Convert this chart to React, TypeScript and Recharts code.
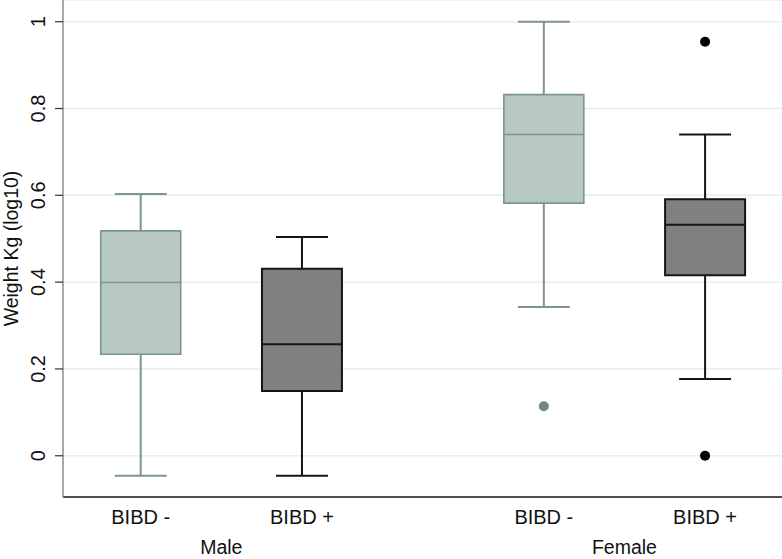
import React from 'react';
import {
  ComposedChart,
  XAxis,
  YAxis,
  CartesianGrid,
  ReferenceArea,
  ReferenceLine,
  Scatter,
} from 'recharts';

// groups on the x axis (Stata-style box plot, over(bibd) over(sex))
const categories = ['BIBD -', 'BIBD +', 'BIBD -', 'BIBD +'];
const sexes = ['Male', 'Female'];
const sexPositions = [1.5, 4];
const xPositions = [1, 2, 3.5, 4.5];
const bibdStatus = ['neg', 'pos', 'neg', 'pos'];

// box-plot statistics, weight kg (log10)
const whiskerLow = [-0.046, -0.046, 0.343, 0.177];
const q1 = [0.234, 0.149, 0.582, 0.416];
const median = [0.399, 0.257, 0.74, 0.532];
const q3 = [0.518, 0.431, 0.832, 0.591];
const whiskerHigh = [0.603, 0.504, 1.0, 0.74];

// outside values
const outliersNeg = [{ x: 3.5, y: 0.114 }];
const outliersPos = [
  { x: 4.5, y: 0.954 },
  { x: 4.5, y: 0.0 },
];

const yTicks = [0, 0.2, 0.4, 0.6, 0.8, 1];
const yTickLabels = ['0', '0.2', '0.4', '0.6', '0.8', '1'];

const FONT = '"Liberation Sans", Arial, sans-serif';
const BOX_HALF = 0.248;
const CAP_HALF = 0.161;

const styles: Record<string, { fill: string; stroke: string; width: number; dot: string }> = {
  neg: { fill: '#b7c9c2', stroke: '#7c968e', width: 1.6, dot: '#6e8a81' },
  pos: { fill: '#808080', stroke: '#151515', width: 2, dot: '#000000' },
};

const YTick = (props: any) => {
  const { x, y, index } = props;
  const bx = x - 9.5;
  return (
    <text
      x={bx}
      y={y}
      transform={`rotate(-90, ${bx}, ${y})`}
      textAnchor="middle"
      fontSize={20}
      fontFamily={FONT}
      fill="#111"
    >
      {yTickLabels[index]}
    </text>
  );
};

const XTick = (props: any) => {
  const { x, y, index } = props;
  return (
    <text x={x} y={y + 27} textAnchor="middle" fontSize={20} fontFamily={FONT} fill="#111">
      {categories[index]}
    </text>
  );
};

const GroupTick = (props: any) => {
  const { x, y, index } = props;
  return (
    <text x={x} y={y + 19} textAnchor="middle" fontSize={19.5} fontFamily={FONT} fill="#111">
      {sexes[index]}
    </text>
  );
};

const YLabel = (props: any) => {
  const vb = props.viewBox || { y: 0, height: 497 };
  const cy = vb.y + vb.height / 2;
  return (
    <text
      x={18}
      y={cy}
      transform={`rotate(-90, 18, ${cy})`}
      textAnchor="middle"
      fontSize={19.5}
      fontFamily={FONT}
      fill="#111"
    >
      Weight Kg (log10)
    </text>
  );
};

export default function App() {
  return (
    <div style={{ position: 'absolute', left: 0, top: 0, background: '#fff' }}>
      <ComposedChart width={782} height={559} margin={{ top: 0, right: 0, bottom: 0, left: 0 }}>
        <CartesianGrid vertical={false} stroke="#e8eeec" strokeWidth={1.5} />
        <XAxis
          dataKey="x"
          type="number"
          domain={[0.518, 4.977]}
          ticks={xPositions}
          allowDataOverflow
          height={38}
          tickSize={0}
          tickMargin={0}
          tickLine={false}
          axisLine={{ stroke: '#1a1a1a', strokeWidth: 1.5 }}
          tick={<XTick />}
          interval={0}
        />
        <XAxis
          xAxisId="g"
          dataKey="x"
          type="number"
          domain={[0.518, 4.977]}
          ticks={sexPositions}
          allowDataOverflow
          height={24}
          tickSize={0}
          tickMargin={0}
          tickLine={false}
          axisLine={false}
          tick={<GroupTick />}
          interval={0}
        />
        <YAxis
          dataKey="y"
          type="number"
          domain={[-0.095, 1.05]}
          ticks={yTicks}
          allowDataOverflow
          width={63}
          tickSize={8}
          tickMargin={0}
          interval={0}
          tickLine={{ stroke: '#333', strokeWidth: 1.2 }}
          axisLine={{ stroke: '#8c8c8c', strokeWidth: 1.5 }}
          tick={<YTick />}
          label={<YLabel />}
        />
        {xPositions.map((p, i) => {
          const s = styles[bibdStatus[i]];
          return (
            <ReferenceArea
              key={`box-${i}`}
              x1={p - BOX_HALF}
              x2={p + BOX_HALF}
              y1={q1[i]}
              y2={q3[i]}
              fill={s.fill}
              fillOpacity={1}
              stroke={s.stroke}
              strokeWidth={s.width}
              ifOverflow="visible"
            />
          );
        })}
        {xPositions.map((p, i) => {
          const s = styles[bibdStatus[i]];
          return (
            <React.Fragment key={`lines-${i}`}>
              <ReferenceLine
                segment={[
                  { x: p - BOX_HALF, y: median[i] },
                  { x: p + BOX_HALF, y: median[i] },
                ]}
                stroke={s.stroke}
                strokeWidth={s.width}
                ifOverflow="visible"
              />
              <ReferenceLine
                segment={[
                  { x: p, y: q3[i] },
                  { x: p, y: whiskerHigh[i] },
                ]}
                stroke={s.stroke}
                strokeWidth={2}
                ifOverflow="visible"
              />
              <ReferenceLine
                segment={[
                  { x: p, y: whiskerLow[i] },
                  { x: p, y: q1[i] },
                ]}
                stroke={s.stroke}
                strokeWidth={2}
                ifOverflow="visible"
              />
              <ReferenceLine
                segment={[
                  { x: p - CAP_HALF, y: whiskerHigh[i] },
                  { x: p + CAP_HALF, y: whiskerHigh[i] },
                ]}
                stroke={s.stroke}
                strokeWidth={2}
                ifOverflow="visible"
              />
              <ReferenceLine
                segment={[
                  { x: p - CAP_HALF, y: whiskerLow[i] },
                  { x: p + CAP_HALF, y: whiskerLow[i] },
                ]}
                stroke={s.stroke}
                strokeWidth={2}
                ifOverflow="visible"
              />
            </React.Fragment>
          );
        })}
        <Scatter
          data={outliersNeg}
          dataKey="y"
          fill={styles.neg.dot}
          isAnimationActive={false}
          shape={(p: any) => <circle cx={p.cx} cy={p.cy} r={5} fill={styles.neg.dot} />}
        />
        <Scatter
          data={outliersPos}
          dataKey="y"
          fill={styles.pos.dot}
          isAnimationActive={false}
          shape={(p: any) => <circle cx={p.cx} cy={p.cy} r={5} fill={styles.pos.dot} />}
        />
      </ComposedChart>
    </div>
  );
}
